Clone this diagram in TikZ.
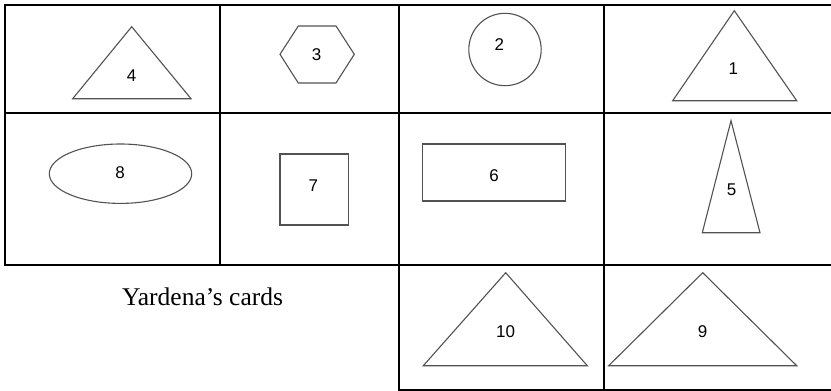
\documentclass[tikz,border=0pt]{standalone}
\usepackage{fontspec}
\setmainfont{Liberation Serif}
\newfontfamily\arialf{Liberation Sans}
\begin{document}
\begin{tikzpicture}[x=1pt,y=-1pt,
  gridline/.style={line width=2.7pt, draw=black, line join=miter},
  fig/.style={line width=1.1pt, draw=black!68, line join=miter},
  lab/.style={font=\arialf\fontsize{17}{17}\selectfont, inner sep=0pt},
  captext/.style={font=\fontsize{25.5}{26}\selectfont, inner sep=0pt}]
\useasboundingbox (0,0) rectangle (831,391);
% grid
\draw[gridline] (831,5) -- (5,5) -- (5,265) -- (831,265);
\draw[gridline] (5,113) -- (831,113);
\draw[gridline] (220,5) -- (220,265);
\draw[gridline] (399,5) -- (399,390) -- (831,390);
\draw[gridline] (604,5) -- (604,390);
% shapes
\draw[fig] (131.7,26.7) -- (72.7,98.7) -- (191,98.7) -- cycle;
\draw[fig] (280,54.3) -- (298.3,26) -- (336,26) -- (354.3,54.3) -- (336,83) -- (298.3,83) -- cycle;
\draw[fig] (505,49.5) circle [radius=36.2];
\draw[fig] (734.3,10.7) -- (672.7,100.7) -- (796.7,100.7) -- cycle;
\draw[fig] (120.5,173.7) ellipse [x radius=71.2, y radius=29.7];
\draw[fig] (280,154) rectangle (348.3,225);
\draw[fig] (422.7,144) rectangle (565.7,201);
\draw[fig] (731,120.7) -- (702.3,232.7) -- (760,232.7) -- cycle;
\draw[fig] (505.7,272.7) -- (423.3,365.7) -- (587.3,365.7) -- cycle;
\draw[fig] (702.7,272.7) -- (608.7,365.7) -- (796.7,365.7) -- cycle;
% labels
\node[lab] (l4) at (131.7,76) {4};
\node[lab] (l3) at (316.7,55) {3};
\node[lab] (l2) at (499.3,44.3) {2};
\node[lab] (l1) at (733.3,68.3) {1};
\node[lab] (l8) at (120,172.7) {8};
\node[lab] (l7) at (313.3,186) {7};
\node[lab] (l6) at (494,176) {6};
\node[lab] (l5) at (731.7,189.3) {5};
\node[lab] (l10) at (505.7,331.7) {10};
\node[lab] (l9) at (702.7,331.7) {9};
\node[captext] (title) at (202.5,296.5) {Yardena’s cards};
\end{tikzpicture}
\end{document}
